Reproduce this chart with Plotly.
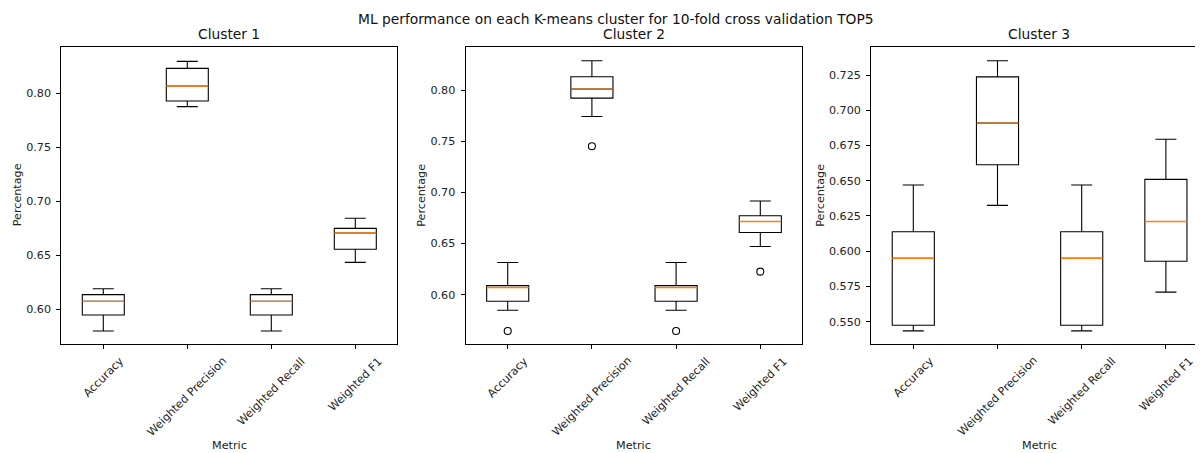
import plotly.graph_objects as go

# ---------------- data ----------------
metrics = ["Accuracy", "Weighted Precision", "Weighted Recall", "Weighted F1"]
positions = [1, 2, 3, 4]

c1_q1 = [0.5948, 0.7929, 0.5948, 0.6556]
c1_median = [0.6074, 0.8068, 0.6074, 0.6707]
c1_q3 = [0.6136, 0.8231, 0.6136, 0.6750]
c1_lower = [0.5799, 0.7877, 0.5799, 0.6435]
c1_upper = [0.6190, 0.8296, 0.6190, 0.6843]
c1_outlier_pos = []
c1_outlier_val = []

c2_q1 = [0.5935, 0.7925, 0.5935, 0.6609]
c2_median = [0.6069, 0.8013, 0.6069, 0.6717]
c2_q3 = [0.6088, 0.8134, 0.6088, 0.6772]
c2_lower = [0.5846, 0.7745, 0.5846, 0.6471]
c2_upper = [0.6314, 0.8291, 0.6314, 0.6917]
c2_outlier_pos = [1, 2, 3, 4]
c2_outlier_val = [0.5643, 0.7453, 0.5643, 0.6225]

c3_q1 = [0.5474, 0.6614, 0.5474, 0.5929]
c3_median = [0.5950, 0.6909, 0.5950, 0.6211]
c3_q3 = [0.6138, 0.7238, 0.6138, 0.6510]
c3_lower = [0.5434, 0.6325, 0.5434, 0.5709]
c3_upper = [0.6470, 0.7352, 0.6470, 0.6795]
c3_outlier_pos = []
c3_outlier_val = []

cluster_titles = ["Cluster 1", "Cluster 2", "Cluster 3"]
suptitle = "ML performance on each K-means cluster for 10-fold cross validation TOP5"
y_ticks_12 = [0.60, 0.65, 0.70, 0.75, 0.80]
y_ticks_3 = [0.550, 0.575, 0.600, 0.625, 0.650, 0.675, 0.700, 0.725]

# ---------------- layout geometry ----------------
PAGE_W, PAGE_H = 1203, 453
OFF = 8  # default body margin of the html page
W, H = PAGE_W - OFF, PAGE_H - OFF
FONT = "DejaVu Sans"
BOX_W = 0.5
TICK_SIZE = 11.2
TITLE_SIZE = 13.8


def px(xp):
    return (xp - OFF) / W


def py(yp):
    return 1 - (yp - OFF) / H


panels = [
    dict(q1=c1_q1, med=c1_median, q3=c1_q3, lo=c1_lower, hi=c1_upper,
         op=c1_outlier_pos, ov=c1_outlier_val,
         left=61.3, right=397.3, xr=[0.5, 4.5], yr=[0.5679, 0.8432],
         yt=y_ticks_12, fmt=".2f", ylab_x=17),
    dict(q1=c2_q1, med=c2_median, q3=c2_q3, lo=c2_lower, hi=c2_upper,
         op=c2_outlier_pos, ov=c2_outlier_val,
         left=465.6, right=802.4, xr=[0.5, 4.5], yr=[0.5516, 0.8429],
         yt=y_ticks_12, fmt=".2f", ylab_x=421.5),
    dict(q1=c3_q1, med=c3_median, q3=c3_q3, lo=c3_lower, hi=c3_upper,
         op=c3_outlier_pos, ov=c3_outlier_val,
         left=871.2, right=PAGE_W, xr=[0.5, 0.5 + (PAGE_W - 871.2) / 84.2], yr=[0.5341, 0.7452],
         yt=y_ticks_3, fmt=".3f", ylab_x=820.5),
]

TOP, BOTTOM = 46.7, 344.0
ydom = [py(BOTTOM), py(TOP)]

fig = go.Figure()
annotations = []
layout = dict(
    width=W, height=H, autosize=False,
    margin=dict(l=0, r=0, t=0, b=0),
    paper_bgcolor="white", plot_bgcolor="white",
    showlegend=False,
    font=dict(family=FONT, size=TICK_SIZE, color="black"),
    hovermode=False,
)

for i, p in enumerate(panels):
    n = "" if i == 0 else str(i + 1)
    xa, ya = "x" + n, "y" + n
    fig.add_trace(go.Box(
        x=positions, q1=p["q1"], median=p["med"], q3=p["q3"],
        lowerfence=p["lo"], upperfence=p["hi"],
        width=BOX_W, whiskerwidth=0.5, boxpoints=False,
        line=dict(color="black", width=1.1), fillcolor="rgba(255,255,255,0)",
        xaxis=xa, yaxis=ya,
    ))
    mx, my = [], []
    for pos, m in zip(positions, p["med"]):
        mx += [pos - BOX_W / 2, pos + BOX_W / 2, None]
        my += [m, m, None]
    fig.add_trace(go.Scatter(x=mx, y=my, mode="lines",
                             line=dict(color="#ff7f0e", width=1.4),
                             xaxis=xa, yaxis=ya))
    if p["op"]:
        fig.add_trace(go.Scatter(x=p["op"], y=p["ov"], mode="markers",
                                 marker=dict(symbol="circle-open", size=7,
                                             color="black", line=dict(width=1.1)),
                                 xaxis=xa, yaxis=ya))
    layout["xaxis" + n] = dict(
        domain=[px(p["left"]), min(1.0, px(p["right"]))], range=p["xr"], anchor=ya,
        tickmode="array", tickvals=positions, showticklabels=False,
        ticks="outside", ticklen=4, tickwidth=1, tickcolor="black",
        showgrid=False, zeroline=False,
        showline=True, mirror=True, linecolor="black", linewidth=1,
    )
    layout["yaxis" + n] = dict(
        domain=ydom, range=p["yr"], anchor=xa,
        tickmode="array", tickvals=p["yt"], tickformat=p["fmt"],
        ticks="outside", ticklen=4, tickwidth=1, tickcolor="black",
        ticklabelstandoff=3,
        tickfont=dict(family=FONT, size=TICK_SIZE, color="#222"),
        showgrid=False, zeroline=False,
        showline=True, mirror=True, linecolor="black", linewidth=1,
    )
    cx = px(p["left"] + 336 / 2)
    for pos, lab in zip(positions, metrics):
        annotations.append(dict(
            text=lab, x=pos, xref=xa, y=py(352), yref="paper",
            xanchor="center", yanchor="top", textangle=-45, showarrow=False,
            font=dict(family=FONT, size=TICK_SIZE, color="#222"),
        ))
    annotations.append(dict(text=cluster_titles[i], x=cx, xref="paper",
                            y=py(34), yref="paper", xanchor="center", yanchor="middle",
                            showarrow=False, font=dict(family=FONT, size=TITLE_SIZE, color="#111")))
    annotations.append(dict(text="Metric", x=cx, xref="paper",
                            y=py(445), yref="paper", xanchor="center", yanchor="middle",
                            showarrow=False, font=dict(family=FONT, size=TICK_SIZE, color="#222")))
    annotations.append(dict(text="Percentage", x=px(p["ylab_x"]), xref="paper",
                            y=(ydom[0] + ydom[1]) / 2, yref="paper",
                            xanchor="center", yanchor="middle", textangle=-90,
                            showarrow=False, font=dict(family=FONT, size=TICK_SIZE, color="#222")))

annotations.append(dict(text=suptitle, x=px(616), xref="paper", y=py(19), yref="paper",
                        xanchor="center", yanchor="middle", showarrow=False,
                        font=dict(family=FONT, size=TITLE_SIZE, color="#111")))
layout["annotations"] = annotations
fig.update_layout(**layout)
fig.write_html("out.html")
